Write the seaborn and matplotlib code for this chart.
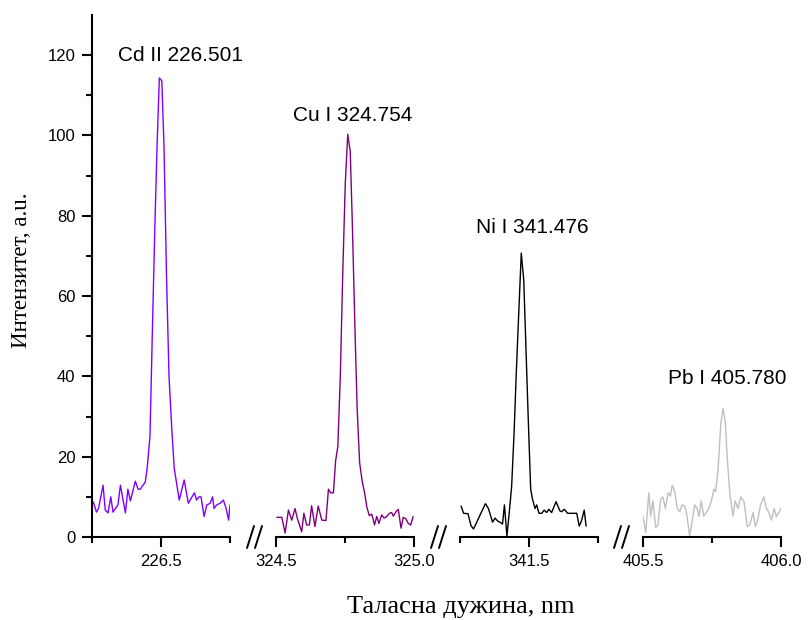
import matplotlib
matplotlib.use("Agg")
import matplotlib.pyplot as plt
from matplotlib.ticker import FixedLocator
from matplotlib.lines import Line2D
import pandas as pd
import seaborn as sns

# ── Data ──────────────────────────────────────────────────────────────────────

cd_wl = [226.255, 226.266, 226.274, 226.290, 226.298, 226.308, 226.318, 226.326,
         226.344, 226.353, 226.371, 226.380, 226.389, 226.407, 226.417, 226.425,
         226.443, 226.450, 226.460, 226.469, 226.478, 226.486, 226.494, 226.503,
         226.511, 226.520, 226.529, 226.539, 226.548, 226.566, 226.584, 226.599,
         226.609, 226.621, 226.629, 226.638, 226.645, 226.656, 226.666, 226.678,
         226.687, 226.692, 226.702, 226.714, 226.726, 226.736, 226.745, 226.750]
cd_int = [8.7, 6.2, 7.2, 12.9, 6.7, 6.0, 10.0, 6.2,
          8.0, 12.9, 6.0, 11.9, 9.0, 13.9, 11.9, 11.9,
          13.7, 17.2, 25.0, 52.0, 78.0, 98.0, 114.3, 113.6,
          97.0, 65.0, 40.0, 27.0, 17.1, 9.2, 14.2, 8.4,
          9.6, 11.0, 9.2, 10.0, 10.0, 5.1, 8.0, 8.4,
          10.0, 7.1, 8.0, 8.4, 9.2, 7.1, 4.2, 8.0]

cu_wl = [324.503, 324.521, 324.533, 324.545, 324.557, 324.569, 324.577, 324.593,
         324.601, 324.611, 324.621, 324.629, 324.641, 324.653, 324.666, 324.681,
         324.690, 324.698, 324.708, 324.716, 324.724, 324.733, 324.742, 324.751,
         324.760, 324.769, 324.777, 324.786, 324.794, 324.803, 324.812, 324.821,
         324.829, 324.838, 324.847, 324.857, 324.865, 324.873, 324.883, 324.892,
         324.901, 324.911, 324.919, 324.925, 324.935, 324.943, 324.953, 324.961,
         324.971, 324.979, 324.988, 324.997]
cu_int = [4.9, 4.9, 1.0, 6.7, 4.2, 7.1, 4.7, 1.3,
          5.9, 3.0, 3.0, 7.8, 2.6, 7.7, 4.2, 4.1,
          11.9, 11.0, 11.0, 19.0, 22.5, 40.0, 66.0, 88.0,
          100.3, 96.0, 77.0, 52.0, 32.0, 18.5, 14.0, 11.0,
          7.5, 5.3, 5.7, 3.0, 5.1, 3.4, 5.5, 4.7,
          5.1, 5.9, 6.1, 5.2, 6.3, 6.9, 2.2, 4.9,
          4.5, 3.4, 3.0, 5.1]

ni_wl = [341.254, 341.263, 341.279, 341.290, 341.299, 341.342, 341.353, 341.368,
         341.377, 341.386, 341.397, 341.404, 341.411, 341.420, 341.429, 341.437,
         341.446, 341.454, 341.463, 341.472, 341.481, 341.489, 341.497, 341.506,
         341.512, 341.522, 341.528, 341.536, 341.546, 341.555, 341.564, 341.572,
         341.582, 341.598, 341.612, 341.618, 341.628, 341.640, 341.661, 341.673,
         341.682, 341.691, 341.700, 341.707]
ni_int = [7.7, 5.9, 5.8, 2.8, 2.0, 8.3, 7.1, 3.7,
          4.7, 4.0, 3.6, 3.2, 8.0, 0.2, 6.5, 12.5,
          26.0, 41.0, 56.0, 70.7, 64.0, 47.0, 30.0, 12.0,
          9.6, 7.1, 8.0, 5.9, 5.9, 6.7, 6.1, 6.9,
          6.1, 8.8, 6.5, 6.3, 6.9, 5.9, 5.9, 5.9,
          2.7, 4.2, 6.7, 2.7]

pb_wl = [405.500, 405.510, 405.521, 405.528, 405.536, 405.546, 405.554, 405.564,
         405.572, 405.581, 405.591, 405.599, 405.606, 405.615, 405.624, 405.633,
         405.642, 405.651, 405.659, 405.669, 405.678, 405.687, 405.697, 405.703,
         405.711, 405.720, 405.729, 405.738, 405.747, 405.757, 405.763, 405.772,
         405.782, 405.790, 405.798, 405.805, 405.814, 405.826, 405.834, 405.844,
         405.854, 405.866, 405.878, 405.887, 405.899, 405.907, 405.917, 405.926,
         405.938, 405.947, 405.955, 405.965, 405.975, 405.983, 405.992, 406.000]
pb_int = [5.1, 1.1, 11.0, 5.2, 9.0, 2.4, 3.0, 9.4,
          10.0, 7.1, 11.0, 10.2, 12.9, 11.3, 7.1, 6.3,
          8.0, 7.7, 5.5, 0.25, 3.8, 8.0, 6.9, 5.1,
          9.0, 5.2, 6.1, 7.1, 8.8, 11.9, 11.3, 16.7,
          28.3, 32.0, 28.7, 20.0, 11.3, 5.2, 9.0, 7.1,
          10.0, 8.8, 2.6, 3.0, 6.1, 2.6, 4.7, 8.0,
          10.0, 7.1, 6.3, 4.2, 7.1, 5.1, 6.1, 7.1]

x_ranges = [(226.25, 226.75), (324.5, 325.0), (341.25, 341.75), (405.5, 406.0)]
major_ticks = [[226.5], [324.5, 325.0], [341.5], [405.5, 406.0]]
minor_ticks = [[226.25, 226.75], [324.75], [341.25, 341.75], [405.75]]
tick_labels = [["226.5"], ["324.5", "325.0"], ["341.5"], ["405.5", "406.0"]]

line_names = ["Cd II 226.501", "Cu I 324.754", "Ni I 341.476", "Pb I 405.780"]
name_pos = [(226.572, 120.0), (324.779, 105.0), (341.511, 77.0), (405.804, 39.5)]
colors = ["#8000FF", "#800080", "#000000", "#C0C0C0"]

y_major = [0, 20, 40, 60, 80, 100, 120]
y_minor = [10, 30, 50, 70, 90, 110]

series = [(cd_wl, cd_int), (cu_wl, cu_int), (ni_wl, ni_int), (pb_wl, pb_int)]

# ── Plot ──────────────────────────────────────────────────────────────────────

sns.set_theme(style="ticks")
plt.rcParams["font.family"] = ["Liberation Sans", "DejaVu Sans"]
plt.rcParams.update({"text.color": "black", "axes.labelcolor": "black",
                     "xtick.color": "black", "ytick.color": "black"})
serif = ["Liberation Serif", "DejaVu Serif"]

W, H = 809, 620
fig = plt.figure(figsize=(W / 100, H / 100), dpi=100)
lefts = [92, 276, 460, 643]
pw = 138

for i, (wl, inten) in enumerate(series):
    ax = fig.add_axes([lefts[i] / W, 83 / H, pw / W, 522 / H])
    ax.patch.set_alpha(0)
    df = pd.DataFrame({"wl": wl, "I": inten})
    sns.lineplot(data=df, x="wl", y="I", color=colors[i], lw=1.0, ax=ax)
    ax.set_xlim(*x_ranges[i])
    ax.set_ylim(0, 130)
    ax.set_xlabel("")
    ax.set_ylabel("")
    for s in ["top", "right"]:
        ax.spines[s].set_visible(False)
    ax.spines["bottom"].set_linewidth(1.5)
    ax.spines["bottom"].set_color("black")
    ax.xaxis.set_major_locator(FixedLocator(major_ticks[i]))
    ax.xaxis.set_minor_locator(FixedLocator(minor_ticks[i]))
    ax.set_xticklabels(tick_labels[i])
    ax.tick_params(axis="x", which="major", length=7, width=1.5, labelsize=12,
                   color="black", labelcolor="black", pad=5)
    ax.tick_params(axis="x", which="minor", length=4, width=1.5, color="black")
    if i == 0:
        ax.spines["left"].set_linewidth(1.5)
        ax.spines["left"].set_color("black")
        ax.yaxis.set_major_locator(FixedLocator(y_major))
        ax.yaxis.set_minor_locator(FixedLocator(y_minor))
        ax.tick_params(axis="y", which="major", length=7, width=1.5, labelsize=12,
                       color="black", labelcolor="black", pad=5)
        ax.tick_params(axis="y", which="minor", length=4, width=1.5, color="black")
    else:
        ax.spines["left"].set_visible(False)
        ax.set_yticks([])
        ax.tick_params(axis="y", which="minor", length=0)
    ax.text(name_pos[i][0], name_pos[i][1], line_names[i], ha="center",
            va="center", fontsize=15, color="black")

# axis breaks
for cx in [255, 439, 622]:
    for dx in (-4, 4):
        x0 = (cx + dx - 4) / W
        x1 = (cx + dx + 3) / W
        fig.add_artist(Line2D([x0, x1], [1 - 548 / H, 1 - 526 / H],
                              color="black", lw=1.4))

fig.text(22 / W, 1 - 270 / H, "Интензитет, а.u.", rotation=90, ha="center",
         va="center", fontsize=16.5, family=serif, color="black")
fig.text(461 / W, 1 - 607 / H, "Таласна дужина, nm", ha="center",
         va="center", fontsize=19, family=serif, color="black")

fig.savefig("out.png", dpi=100)
